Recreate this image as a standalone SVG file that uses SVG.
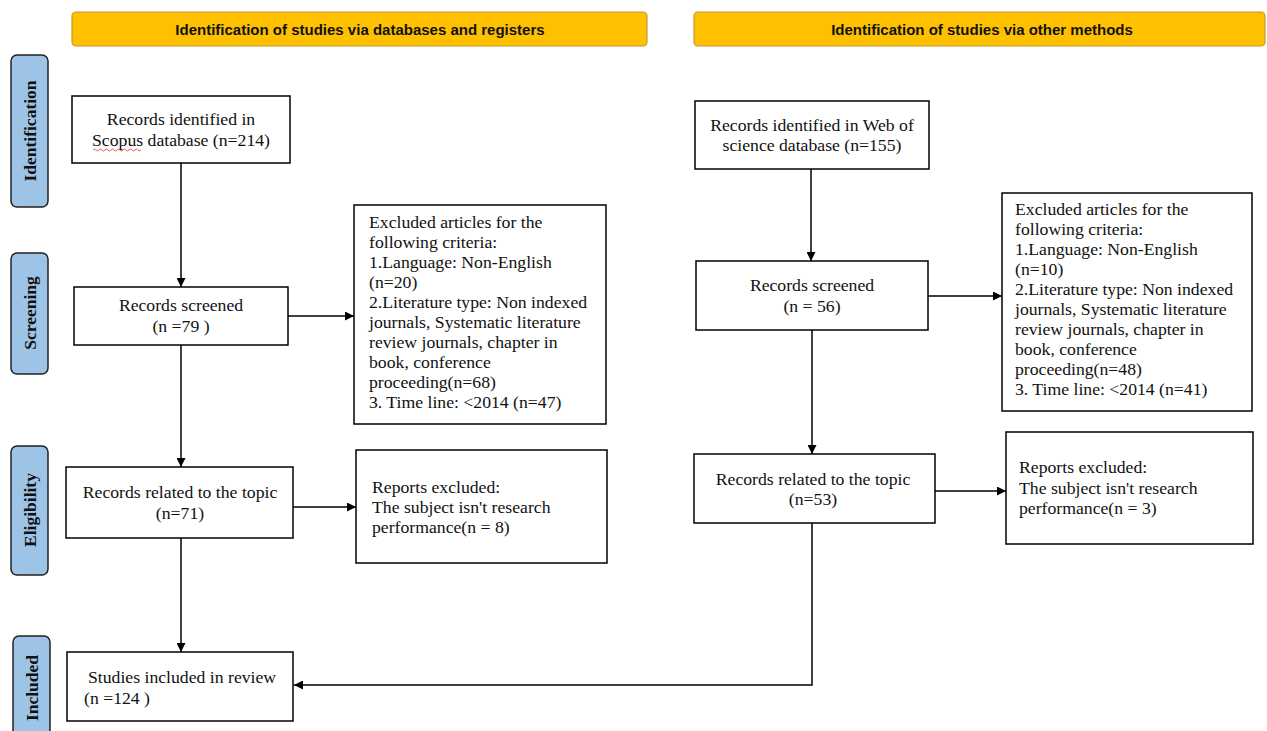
<svg xmlns="http://www.w3.org/2000/svg" width="1267" height="731" viewBox="0 0 1267 731">
<style>
.banner{fill:#FFC000;stroke:#C49A2C;stroke-width:1.2}
.btxt{font-family:"Liberation Sans",Arial,sans-serif;font-weight:bold;font-size:15px;fill:#111;text-anchor:middle}
.phase{fill:#9DC3E6;stroke:#222;stroke-width:1.5}
.ptxt{font-family:"Liberation Serif","Times New Roman",serif;font-weight:bold;font-size:17.5px;fill:#111;text-anchor:middle}
.box{fill:#fff;stroke:#000;stroke-width:1.5}
.t{font-family:"Liberation Serif","Times New Roman",serif;font-size:17.7px;fill:#111}
.c{text-anchor:middle}
.conn{fill:none;stroke:#000;stroke-width:1.5}
</style>
<defs>
<marker id="ah" viewBox="0 0 10 10" refX="10" refY="5" markerWidth="6" markerHeight="6" markerUnits="strokeWidth" orient="auto">
<path d="M0,0 L10,5 L0,10 z" fill="#000"/>
</marker>
</defs>
<rect width="1267" height="731" fill="#fff"/>

<g id="banner-left"><rect class="banner" x="72" y="12" width="575" height="34" rx="4"/><text class="btxt" x="360" y="34.5">Identification of studies via databases and registers</text></g>
<g id="banner-right"><rect class="banner" x="694" y="12" width="571" height="34" rx="4"/><text class="btxt" x="982" y="34.5">Identification of studies via other methods</text></g>

<g id="phase-identification"><rect class="phase" x="11" y="55" width="37" height="152" rx="6"/><text class="ptxt" transform="translate(35.5,131) rotate(-90)">Identification</text></g>
<g id="phase-screening"><rect class="phase" x="11" y="253" width="37" height="121" rx="6"/><text class="ptxt" transform="translate(35.5,313) rotate(-90)">Screening</text></g>
<g id="phase-eligibility"><rect class="phase" x="11" y="446" width="37" height="129" rx="6"/><text class="ptxt" transform="translate(35.5,510) rotate(-90)">Eligibility</text></g>
<g id="phase-included"><rect class="phase" x="13" y="636" width="37" height="110" rx="6"/><text class="ptxt" transform="translate(37.5,688) rotate(-90)">Included</text></g>

<g id="connectors">
<path class="conn" d="M181,163 V287" marker-end="url(#ah)"/>
<path class="conn" d="M288,316 H354" marker-end="url(#ah)"/>
<path class="conn" d="M181,345 V467" marker-end="url(#ah)"/>
<path class="conn" d="M293,507 H356" marker-end="url(#ah)"/>
<path class="conn" d="M181,538 V652" marker-end="url(#ah)"/>
<path class="conn" d="M811,169 V261" marker-end="url(#ah)"/>
<path class="conn" d="M928,296 H1002" marker-end="url(#ah)"/>
<path class="conn" d="M812,330 V454" marker-end="url(#ah)"/>
<path class="conn" d="M935,491 H1006" marker-end="url(#ah)"/>
<path class="conn" d="M812,523 V685 H294" marker-end="url(#ah)"/>
</g>

<g id="scopus"><rect class="box" x="72" y="96" width="218" height="67"/>
<text class="t c" x="181" y="125">Records identified in</text>
<text class="t c" x="181" y="146">Scopus database (n=214)</text>
<path d="M93,150 q1.5,-2 3,0 t3,0 t3,0 t3,0 t3,0 t3,0 t3,0 t3,0 t3,0 t3,0 t3,0 t3,0 t3,0 t3,0 t3,0 t3,0" fill="none" stroke="#d33" stroke-width="0.8"/></g>

<g id="screened-left"><rect class="box" x="74" y="287" width="214" height="58"/>
<text class="t c" x="181" y="311">Records screened</text>
<text class="t c" x="181" y="332">(n =79 )</text></g>

<g id="excluded-left"><rect class="box" x="354" y="205" width="252" height="219"/>
<text class="t" x="369" y="228">Excluded articles for the</text>
<text class="t" x="369" y="248">following criteria:</text>
<text class="t" x="369" y="268">1.Language: Non-English</text>
<text class="t" x="369" y="288">(n=20)</text>
<text class="t" x="369" y="308">2.Literature type: Non indexed</text>
<text class="t" x="369" y="328">journals, Systematic literature</text>
<text class="t" x="369" y="348">review journals, chapter in</text>
<text class="t" x="369" y="368">book, conference</text>
<text class="t" x="369" y="388">proceeding(n=68)</text>
<text class="t" x="369" y="408">3. Time line: &lt;2014 (n=47)</text></g>

<g id="related-left"><rect class="box" x="66" y="467" width="227" height="71"/>
<text class="t c" x="180" y="498">Records related to the topic</text>
<text class="t c" x="180" y="519">(n=71)</text></g>

<g id="reports-left"><rect class="box" x="356" y="450" width="251" height="113"/>
<text class="t" x="372" y="493">Reports excluded:</text>
<text class="t" x="372" y="513">The subject isn't research</text>
<text class="t" x="372" y="533">performance(n = 8)</text></g>

<g id="included"><rect class="box" x="67" y="652" width="226" height="69"/>
<text class="t" x="88" y="683">Studies included in review</text>
<text class="t" x="84" y="704">(n =124 )</text></g>

<g id="wos"><rect class="box" x="695" y="101" width="234" height="68"/>
<text class="t c" x="812" y="131">Records identified in Web of</text>
<text class="t c" x="812" y="151">science database (n=155)</text></g>

<g id="screened-right"><rect class="box" x="696" y="261" width="232" height="69"/>
<text class="t c" x="812" y="291">Records screened</text>
<text class="t c" x="812" y="312">(n = 56)</text></g>

<g id="excluded-right"><rect class="box" x="1002" y="193" width="250" height="218"/>
<text class="t" x="1015" y="215">Excluded articles for the</text>
<text class="t" x="1015" y="235">following criteria:</text>
<text class="t" x="1015" y="255">1.Language: Non-English</text>
<text class="t" x="1015" y="275">(n=10)</text>
<text class="t" x="1015" y="295">2.Literature type: Non indexed</text>
<text class="t" x="1015" y="315">journals, Systematic literature</text>
<text class="t" x="1015" y="335">review journals, chapter in</text>
<text class="t" x="1015" y="355">book, conference</text>
<text class="t" x="1015" y="375">proceeding(n=48)</text>
<text class="t" x="1015" y="395">3. Time line: &lt;2014 (n=41)</text></g>

<g id="related-right"><rect class="box" x="694" y="454" width="241" height="69"/>
<text class="t c" x="813" y="485">Records related to the topic</text>
<text class="t c" x="813" y="505">(n=53)</text></g>

<g id="reports-right"><rect class="box" x="1006" y="432" width="247" height="112"/>
<text class="t" x="1019" y="473">Reports excluded:</text>
<text class="t" x="1019" y="494">The subject isn't research</text>
<text class="t" x="1019" y="514">performance(n = 3)</text></g>
</svg>
